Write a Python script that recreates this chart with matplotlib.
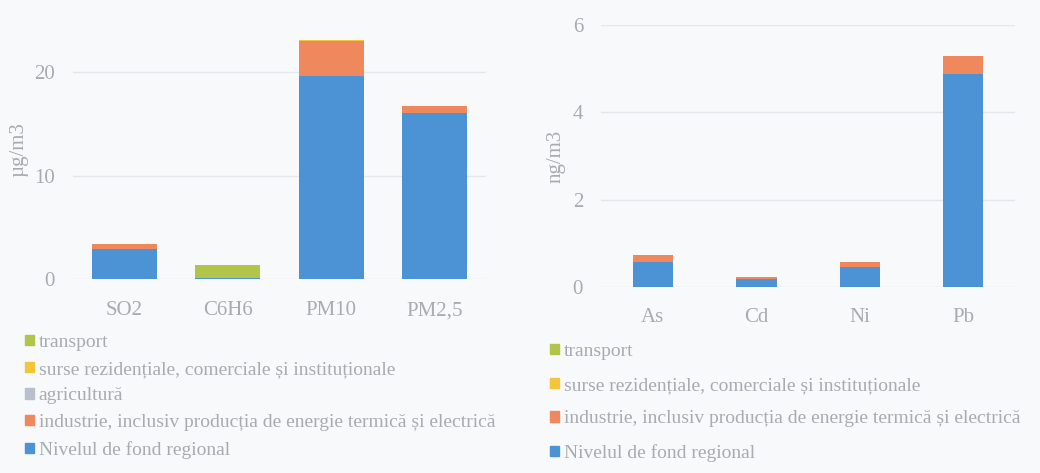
import matplotlib
matplotlib.use("Agg")
import matplotlib.pyplot as plt
from matplotlib.patches import Patch

# Pollutant categories
left_categories = ["SO2", "C6H6", "PM10", "PM2,5"]
right_categories = ["As", "Cd", "Ni", "Pb"]

# Source contributions, µg/m3 (gases and particulate matter)
left_fond = [2.9, 0.1, 19.6, 16.0]
left_industrie = [0.5, 0.0, 3.4, 0.7]
left_agricultura = [0.0, 0.0, 0.0, 0.0]
left_surse = [0.0, 0.0, 0.1, 0.0]
left_transport = [0.0, 1.25, 0.0, 0.0]

# Source contributions, ng/m3 (heavy metals)
right_fond = [0.57, 0.18, 0.46, 4.87]
right_industrie = [0.16, 0.05, 0.11, 0.42]
right_surse = [0.0, 0.0, 0.0, 0.0]
right_transport = [0.0, 0.0, 0.0, 0.0]

left_ticks = [0, 10, 20]
right_ticks = [0, 2, 4, 6]

lbl_transport = "transport"
lbl_surse = "surse rezidențiale, comerciale și instituționale"
lbl_agri = "agricultură"
lbl_ind = "industrie, inclusiv producția de energie termică și electrică"
lbl_fond = "Nivelul de fond regional"

C_FOND = "#4c93d6"
C_IND = "#ef885c"
C_AGRI = "#b9bfcc"
C_SURSE = "#f3c53a"
C_TRANS = "#b3c549"
TXT = "#a8abaf"
GRID = "#e4e7eb"
BG = "#f7f9fb"

plt.rcParams["font.family"] = ["Liberation Serif", "DejaVu Serif"]

fig = plt.figure(figsize=(10.4, 4.73), dpi=100, facecolor=BG)


def stacked(ax, cats, layers, width):
    x = list(range(len(cats)))
    bottom = [0.0] * len(cats)
    for vals, color in layers:
        ax.bar(x, vals, width=width, bottom=bottom, color=color, linewidth=0)
        bottom = [b + v for b, v in zip(bottom, vals)]
    ax.set_xticks(x)
    ax.set_xticklabels(cats)
    ax.set_xlim(-0.5, len(cats) - 0.5)


def style(ax, ylabel, xpad):
    ax.set_facecolor(BG)
    for s in ax.spines.values():
        s.set_visible(False)
    ax.tick_params(axis="both", length=0, colors=TXT, labelsize=15)
    ax.tick_params(axis="x", pad=xpad)
    ax.tick_params(axis="y", pad=13)
    ax.yaxis.grid(True, color=GRID, linewidth=1.0)
    ax.set_axisbelow(True)
    ax.set_ylabel(ylabel, color=TXT, fontsize=15)


# Left panel: gases and particulate matter
axl = fig.add_axes([0.0702, 0.410, 0.397, 0.558])
stacked(axl, left_categories,
        [(left_fond, C_FOND), (left_industrie, C_IND), (left_agricultura, C_AGRI),
         (left_surse, C_SURSE), (left_transport, C_TRANS)], 0.63)
axl.set_ylim(0, 25.5)
axl.set_yticks(left_ticks)
style(axl, "µg/m3", 16)
axl.yaxis.set_label_coords(-0.108, 0.49)

# Right panel: heavy metals
axr = fig.add_axes([0.578, 0.393, 0.398, 0.554])
stacked(axr, right_categories,
        [(right_fond, C_FOND), (right_industrie, C_IND),
         (right_surse, C_SURSE), (right_transport, C_TRANS)], 0.39)
axr.set_ylim(0, 6)
axr.set_yticks(right_ticks)
style(axr, "ng/m3", 15)
axr.yaxis.set_label_coords(-0.087, 0.5)

leg_kw = dict(frameon=False, fontsize=14, handlelength=0.45, handleheight=0.45,
              handletextpad=0.25, borderaxespad=0, borderpad=0, labelcolor=TXT,
              loc="upper left")

left_handles = [Patch(color=C_TRANS, label=lbl_transport),
                Patch(color=C_SURSE, label=lbl_surse),
                Patch(color=C_AGRI, label=lbl_agri),
                Patch(color=C_IND, label=lbl_ind),
                Patch(color=C_FOND, label=lbl_fond)]
fig.legend(handles=left_handles, bbox_to_anchor=(0.024, 1 - 334 / 473),
           labelspacing=0.5, **leg_kw)

right_handles = [Patch(color=C_TRANS, label=lbl_transport),
                 Patch(color=C_SURSE, label=lbl_surse),
                 Patch(color=C_IND, label=lbl_ind),
                 Patch(color=C_FOND, label=lbl_fond)]
fig.legend(handles=right_handles, bbox_to_anchor=(0.529, 1 - 343 / 473),
           labelspacing=0.86, **leg_kw)

fig.savefig("out.png", dpi=100, facecolor=BG)
